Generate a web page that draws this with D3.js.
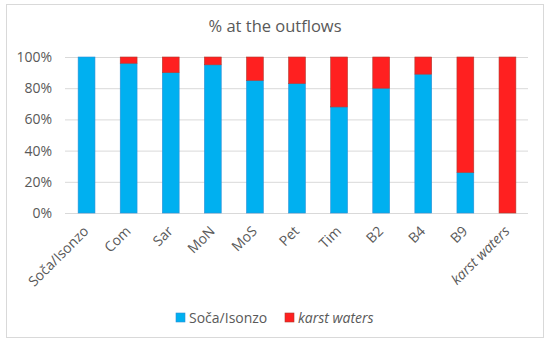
<!DOCTYPE html>
<html><head><meta charset="utf-8">
<script src="https://cdn.jsdelivr.net/npm/d3@7"></script>
<style>body{margin:0;background:#fff}text{font-family:"Open Sans",sans-serif}</style>
</head><body><svg id="c" width="550" height="347"></svg>
<script>
const categories=["Soča/Isonzo","Com","Sar","MoN","MoS","Pet","Tim","B2","B4","B9","karst waters"];
const socaValues=[100,96,90,95,85,83,68,80,89,26,0];
const karstValues=[0,4,10,5,15,17,32,20,11,74,100];
const yTicks=[0,20,40,60,80,100];
const seriesNames=["Soča/Isonzo","karst waters"];
const colors=["#00B0F0","#FF2020"];
const strokes=["#2E8FD6","#B03A2E"];

const svg=d3.select("#c");
svg.append("rect").attr("x",6.5).attr("y",4.5).attr("width",537).attr("height",333).attr("fill","#fff").attr("stroke","#d9d9d9");
const x=d3.scaleBand().domain(categories).range([65.5,528.5]).paddingInner(0.6).paddingOuter(0.3);
const y=d3.scaleLinear().domain([0,100]).range([213,57]);
svg.append("text").attr("x",275).attr("y",32).attr("text-anchor","middle").attr("font-size",16.5).attr("fill","#595959").text("% at the outflows");
const g=svg.append("g");
yTicks.forEach(t=>{
 g.append("line").attr("x1",65).attr("x2",528).attr("y1",y(t)+0.5).attr("y2",y(t)+0.5).attr("stroke","#d9d9d9");
 g.append("text").attr("x",52).attr("y",y(t)+5).attr("text-anchor","end").attr("font-size",14).attr("fill","#595959").text(t+"%");
});
const data=categories.map((c,i)=>({c,v:[socaValues[i],karstValues[i]]}));
data.forEach(d=>{
 let base=0;
 d.v.forEach((v,k)=>{
  if(v>0){
   g.append("rect").attr("x",x(d.c)).attr("y",y(base+v)).attr("width",x.bandwidth()).attr("height",y(base)-y(base+v))
    .attr("fill",colors[k]).attr("stroke",strokes[k]).attr("stroke-width",0.6);
  }
  base+=v;
 });
});
categories.forEach(c=>{
 const cx=x(c)+x.bandwidth()/2;
 g.append("text").attr("transform",`translate(${cx+3},${232}) rotate(-45)`).attr("text-anchor","end")
  .attr("font-size",14).attr("fill","#595959").attr("font-style",c==="karst waters"?"italic":"normal").text(c);
});
const leg=svg.append("g");
const lx=[176,285];
seriesNames.forEach((s,i)=>{
 leg.append("rect").attr("x",lx[i]).attr("y",313).attr("width",9).attr("height",9).attr("fill",colors[i]).attr("stroke",strokes[i]).attr("stroke-width",0.6);
 leg.append("text").attr("x",lx[i]+13).attr("y",322.5).attr("font-size",14).attr("fill","#595959").attr("font-style",i===1?"italic":"normal").text(s);
});
</script></body></html>
